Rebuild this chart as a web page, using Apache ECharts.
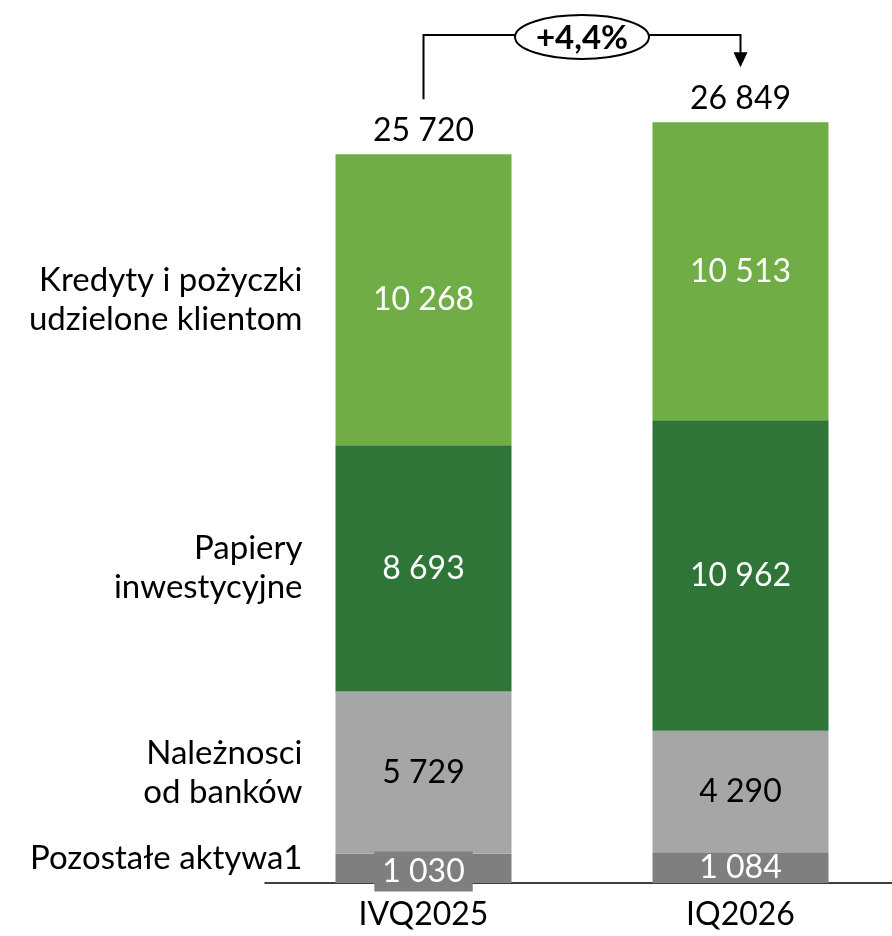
<!DOCTYPE html>
<html>
<head>
<meta charset="utf-8">
<script src="https://cdn.jsdelivr.net/npm/echarts@6/dist/echarts.min.js"></script>
<style>
  html, body { margin: 0; padding: 0; background: #fff; }
  #main { width: 892px; height: 936px; }
</style>
</head>
<body>
<div id="main"></div>
<script>
  // dane
  var periods = ["IVQ2025", "IQ2026"];
  var segmentNames = ["Pozostałe aktywa1", "Należnosci\nod banków", "Papiery\ninwestycyjne", "Kredyty i pożyczki\nudzielone klientom"];
  var pozostale = [1030, 1084];
  var naleznosci = [5729, 4290];
  var papiery = [8693, 10962];
  var kredyty = [10268, 10513];
  var totals = [25720, 26849];
  var changeLabel = "+4,4%";

  var FONT = "Lato";
  var FS = 32;
  var BAR_W = 176;
  var colors = ["#7f7f7f", "#a6a6a6", "#2e7537", "#70ad47"];
  var labelColors = ["#ffffff", "#000000", "#ffffff", "#ffffff"];

  function fmt(v) {
    return String(v).replace(/\B(?=(\d{3})+(?!\d))/g, " ");
  }

  var myChart = echarts.init(document.getElementById("main"));

  var seriesData = [pozostale, naleznosci, papiery, kredyty];
  var series = seriesData.map(function (vals, i) {
    return {
      name: segmentNames[i],
      type: "bar",
      stack: "total",
      barWidth: BAR_W,
      itemStyle: { color: colors[i] },
      label: {
        show: true,
        position: "inside",
        color: labelColors[i],
        fontFamily: FONT,
        fontSize: FS,
        formatter: function (p) { return fmt(p.value); }
      },
      data: vals.map(function (v, j) {
        if (i === 0 && j === 0) {
          // szara ramka pod etykietą pierwszego słupka
          return {
            value: v,
            label: {
              backgroundColor: "#7f7f7f",
              padding: [4, 8, 4, 8],
              offset: [0, 3]
            }
          };
        }
        return v;
      })
    };
  });

  // sumy nad słupkami
  series.push({
    type: "bar",
    stack: "total",
    barWidth: BAR_W,
    itemStyle: { color: "transparent" },
    label: {
      show: true,
      position: "top",
      distance: 8,
      color: "#000",
      fontFamily: FONT,
      fontSize: FS,
      formatter: function (p) { return fmt(totals[p.dataIndex]); }
    },
    data: [0, 0]
  });

  myChart.setOption({
    animation: false,
    grid: { left: 265, top: 33, width: 634, bottom: 53, outerBoundsMode: "none", containLabel: false },
    xAxis: {
      type: "category",
      data: periods,
      axisTick: { show: false },
      axisLine: { lineStyle: { color: "#000", width: 1.5 } },
      axisLabel: { color: "#000", fontFamily: FONT, fontSize: FS, margin: 16 }
    },
    yAxis: { type: "value", min: 0, max: 30000, show: false, splitLine: { show: false } },
    series: series
  });

  var graphics = [];

  // nazwy segmentów po lewej stronie pierwszego słupka
  var cum = 0;
  for (var i = 0; i < seriesData.length; i++) {
    var mid = cum + seriesData[i][0] / 2;
    cum += seriesData[i][0];
    var pm = myChart.convertToPixel({ gridIndex: 0 }, [0, mid]);
    graphics.push({
      type: "text",
      x: pm[0] - BAR_W / 2 - 33,
      y: pm[1] + (i === 0 ? -10 : 0),
      style: {
        text: segmentNames[i],
        fontFamily: FONT,
        fontSize: 33,
        lineHeight: 39,
        fill: "#000",
        align: "right",
        verticalAlign: "middle"
      }
    });
  }

  // strzałka zmiany
  var p0 = myChart.convertToPixel({ gridIndex: 0 }, [0, totals[0]]);
  var p1 = myChart.convertToPixel({ gridIndex: 0 }, [1, totals[1]]);
  var topY = 35;
  var midX = (p0[0] + p1[0]) / 2;
  graphics.push(
    {
      type: "polyline",
      shape: { points: [[p0[0], p0[1] - 55], [p0[0], topY], [p1[0], topY], [p1[0], p1[1] - 68]] },
      style: { stroke: "#000", lineWidth: 2, fill: null }
    },
    {
      type: "polygon",
      shape: { points: [[p1[0] - 7, p1[1] - 70], [p1[0] + 7, p1[1] - 70], [p1[0], p1[1] - 55]] },
      style: { fill: "#000" }
    },
    {
      type: "ellipse",
      shape: { cx: midX, cy: topY + 2, rx: 67, ry: 22 },
      style: { fill: "#fff", stroke: "#000", lineWidth: 2 }
    },
    {
      type: "text",
      x: midX,
      y: topY + 3,
      style: {
        text: changeLabel,
        fontFamily: FONT,
        fontSize: 33,
        fontWeight: "bold",
        fill: "#000",
        align: "center",
        verticalAlign: "middle"
      }
    }
  );

  myChart.setOption({ graphic: graphics });
</script>
</body>
</html>
